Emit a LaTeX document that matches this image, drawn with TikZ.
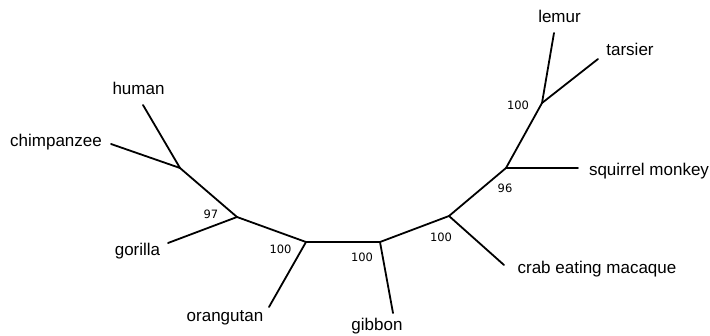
\documentclass[tikz,border=0pt]{standalone}
\usepackage{fontspec}
\setmainfont{Liberation Sans}
\newfontfamily\numfont{DejaVu Sans}
\begin{document}
\begin{tikzpicture}[x=1pt,y=-1pt,
  branch/.style={line width=1.8pt, line cap=round, line join=round},
  leaf/.style={anchor=base, inner sep=0pt, font=\fontsize{17}{17}\selectfont},
  boot/.style={anchor=base, inner sep=0pt, font=\numfont\fontsize{11.5}{11.5}\selectfont}]
\useasboundingbox[fill=white] (0,0) rectangle (710,335);
% internal nodes
\coordinate (hc) at (180,168);
\coordinate (n97) at (237,217);
\coordinate (nL) at (306,242);
\coordinate (nG) at (380,242);
\coordinate (nC) at (449,216);
\coordinate (n96) at (506,168);
\coordinate (nU) at (542,103);
% leaf ends
\coordinate (eHuman) at (143,105);
\coordinate (eChimp) at (111,144);
\coordinate (eGor) at (168,243);
\coordinate (eOra) at (269,307);
\coordinate (eGib) at (393,313);
\coordinate (eCrab) at (504,265);
\coordinate (eSq) at (578,168);
\coordinate (eLem) at (554,33);
\coordinate (eTar) at (598,59);
% branches
\draw[branch] (eHuman) -- (hc);
\draw[branch] (eChimp) -- (hc);
\draw[branch] (hc) -- (n97);
\draw[branch] (eGor) -- (n97);
\draw[branch] (n97) -- (nL);
\draw[branch] (eOra) -- (nL);
\draw[branch] (nL) -- (nG);
\draw[branch] (nG) -- (eGib);
\draw[branch] (nG) -- (nC);
\draw[branch] (nC) -- (eCrab);
\draw[branch] (nC) -- (n96);
\draw[branch] (n96) -- (eSq);
\draw[branch] (n96) -- (nU);
\draw[branch] (nU) -- (eLem);
\draw[branch] (nU) -- (eTar);
% leaf labels
\node[leaf] (tHuman) at (138.5,94) {human};
\node[leaf] (tChimp) at (56,146) {chimpanzee};
\node[leaf] (tGor) at (137.5,255) {gorilla};
\node[leaf] (tOra) at (225,321) {orangutan};
\node[leaf] (tGib) at (377,330.5) {gibbon};
\node[leaf] (tCrab) at (597,273) {crab eating macaque};
\node[leaf] (tSq) at (649,175) {squirrel monkey};
\node[leaf] (tTar) at (630,55) {tarsier};
\node[leaf] (tLem) at (559.5,22) {lemur};
% bootstrap values
\node[boot] (b97) at (211,218) {97};
\node[boot] (bL) at (280.5,253) {100};
\node[boot] (bG) at (362,261) {100};
\node[boot] (bC) at (441,241) {100};
\node[boot] (b96) at (505,192) {96};
\node[boot] (bU) at (518,109) {100};
\end{tikzpicture}
\end{document}
